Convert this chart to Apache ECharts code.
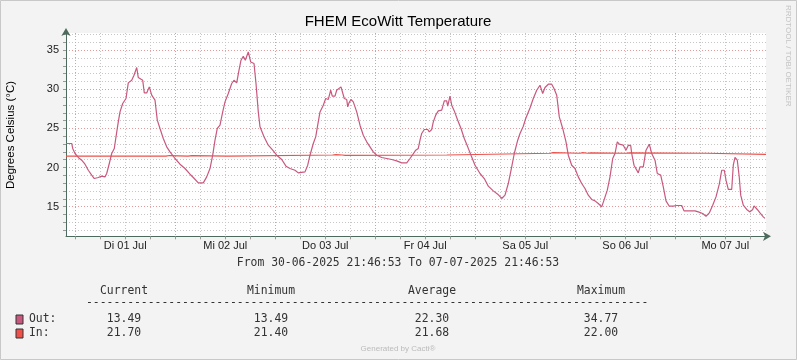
<!DOCTYPE html>
<html><head><meta charset="utf-8">
<script src="https://cdn.jsdelivr.net/npm/echarts@6/dist/echarts.min.js"></script>
<style>html,body{margin:0;padding:0;background:#f3f3f3}#c{width:797px;height:360px}</style>
</head><body><div id="c"></div>
<script>
// Hours since start (30-06-2025 21:46:53)
const outTimes = [0,1.37,1.61,2.16,2.95,3.77,4.56,5.35,6.17,6.79,7.75,8.57,9.36,9.77,10.39,10.97,11.59,12.0,12.55,12.96,13.61,14.4,14.95,15.77,16.32,16.97,17.35,18.41,18.79,19.37,19.99,20.57,21.36,21.91,22.56,23.35,24.17,24.96,26.16,27.36,28.56,29.76,30.55,31.75,32.95,33.77,34.56,35.21,35.76,36.31,36.96,37.61,38.16,38.95,39.77,40.32,40.97,41.52,42.0,42.55,43.03,43.75,44.33,45.12,45.6,46.15,46.56,47.52,48.55,49.61,50.57,51.77,52.8,53.76,54.96,55.75,57.36,58.01,58.56,59.35,59.93,60.41,60.96,61.75,62.33,62.95,63.53,63.91,64.56,64.97,66.0,66.79,67.37,67.61,67.92,68.4,68.95,69.77,70.56,71.35,72.17,72.96,73.75,74.57,75.77,76.97,78.17,79.37,80.57,81.77,82.56,83.11,83.93,84.55,84.96,85.37,85.99,86.81,87.19,87.77,88.15,88.73,89.35,90.17,90.79,91.37,91.61,92.16,92.57,93.19,94.01,94.8,95.59,96.41,97.2,98.16,99.36,100.39,101.35,102.55,103.61,104.57,105.36,106.15,106.97,107.59,108.41,108.96,109.75,110.33,111.36,112.15,112.97,113.76,114.17,114.41,114.96,115.75,116.57,117.12,117.77,118.39,119.21,120.0,120.55,121.37,122.16,122.95,123.77,124.56,125.35,126.17,126.96,127.75,128.57,129.12,129.91,130.56,131.21,131.76,132.31,132.79,133.75,134.4,134.95,135.53,135.77,136.32,136.8,137.35,137.76,138.55,139.2,139.99,140.57,141.36,141.91,142.73,143.35,144.0,144.79,145.75,146.57,147.77,148.32,149.35,150.96,151.75,152.81,153.6,154.39,155.21,156.0,156.79,157.37,157.99,158.4,158.95,159.77,160.15,160.56,161.11,161.59,161.93,162.55,163.37,164.16,164.81,165.12,165.91,166.56,167.35,167.76];
const outValues = [23.07,23.07,22.43,21.79,21.28,20.93,20.42,19.65,19.02,18.59,18.72,18.89,18.80,19.23,20.51,21.79,22.43,23.92,25.83,27.11,28.18,28.82,30.82,31.16,31.80,32.79,31.5,31.16,29.54,29.54,30.31,29.25,28.61,26.05,24.99,23.71,22.64,22.0,21.15,20.42,19.87,19.14,18.72,18.03,18.03,18.8,19.87,21.57,23.49,24.99,25.41,27.11,28.39,29.46,30.74,31.16,30.82,32.44,33.72,34.23,33.72,34.77,33.5,33.3,30.74,27.11,25.2,23.92,22.85,22.21,21.57,21.02,20.17,19.87,19.65,19.31,19.44,20.29,21.57,23.07,23.92,25.41,27.11,27.97,28.82,28.7,29.88,29.12,29.12,29.88,30.31,28.82,28.7,27.75,28.26,28.7,28.39,27.11,25.41,24.13,23.28,22.64,22.0,21.57,21.28,21.15,21.02,20.84,20.59,20.59,21.15,21.57,22.21,22.43,23.49,24.35,24.86,24.86,24.56,24.86,25.83,26.69,27.24,27.33,28.52,28.52,27.84,29.12,27.97,27.24,26.05,24.99,23.71,22.64,21.57,20.29,19.23,18.59,17.61,17.01,16.59,16.04,16.46,17.95,20.08,21.79,23.49,24.35,25.28,26.27,27.6,28.82,29.88,30.52,30.52,29.46,30.23,30.65,30.65,30.1,29.25,26.47,24.99,23.28,21.57,20.29,19.87,18.8,17.95,17.31,16.46,15.91,15.73,15.4,14.96,15.82,17.1,18.8,21.15,21.79,23.28,22.98,22.85,22.21,22.85,22.8,21.79,20.29,20.08,19.31,20.08,20.08,22.21,22.98,21.79,20.93,19.23,19.02,17.52,15.73,15.05,15.05,15.14,15.14,14.45,14.45,14.45,14.32,14.11,13.77,14.19,15.18,16.24,17.86,19.65,19.65,18.38,17.19,17.19,20.29,21.28,20.93,18.72,16.46,15.18,14.63,14.32,14.63,15.09,14.63,14.19,13.69,13.49];
const inTimes = [0,24.0,24.8,29.3,30.2,38.9,64.0,64.8,66.3,67.0,91.4,116.2,116.9,123.4,124.0,125.2,125.9,134.4,135.2,153.6,168];
const inValues = [21.45,21.53,21.45,21.52,21.45,21.6,21.65,21.6,21.55,21.6,21.82,21.9,21.82,21.9,21.82,21.88,21.82,21.88,21.82,21.68,21.70];
const dayLabels = ['Di 01 Jul','Mi 02 Jul','Do 03 Jul','Fr 04 Jul','Sa 05 Jul','So 06 Jul','Mo 07 Jul'];
const yLabels = [15,20,25,30,35];
const statHeaders = ['Current','Minimum','Average','Maximum'];
const statsOut = ['13.49','13.49','22.30','34.77'];
const statsIn = ['21.70','21.40','21.68','22.00'];
const seriesNames = ['Out:','In:'];
const fromText = 'From 30-06-2025 21:46:53 To 07-07-2025 21:46:53';

const startOffset = 24 - (21 + 46/60 + 53/3600); // hours from start to first midnight
const xTicks = []; for (let t = startOffset; t <= 168; t += 6) xTicks.push(t);
const xLabelVals = dayLabels.map((d,i)=> startOffset + 12 + 24*i);
const yTicks = []; for (let v = 12; v <= 37; v++) yTicks.push(v);

const OUTC = '#c9587f', INC = '#f0504a', AXC = '#4d6b5d';
const G = '#c6c6c6', R = '#e29a9a';
const SANS = "'Liberation Sans', Arial, sans-serif";
const MONO = "'DejaVu Sans Mono', monospace";

const colX = [124, 271, 432, 601];
const gfx = [
  {type:'rect', shape:{x:0.5,y:0.5,width:796,height:359}, style:{fill:null, stroke:'#c8c8c8', lineWidth:1}, silent:true, z:-10},
  {type:'text', x:398, y:22, style:{text:'FHEM EcoWitt Temperature', font:'15px '+SANS, fill:'#000', align:'center', verticalAlign:'middle'}},
  {type:'text', x:11, y:135, rotation:Math.PI/2, style:{text:'Degrees Celsius (°C)', font:'11.5px '+SANS, fill:'#000', align:'center', verticalAlign:'middle'}},
  {type:'text', x:788, y:5, rotation:-Math.PI/2, style:{text:'RRDTOOL / TOBI OETIKER', font:'8px '+SANS, fill:'#c4c4c4', align:'left', verticalAlign:'middle'}},
  {type:'text', x:398, y:263, style:{text:fromText, font:'11.4px '+MONO, fill:'#333', align:'center', verticalAlign:'middle'}},
  {type:'text', x:86, y:303, style:{text:'-'.repeat(82), font:'11.4px '+MONO, fill:'#333', align:'left', verticalAlign:'middle'}},
  {type:'text', x:398, y:349, style:{text:'Generated by Cacti®', font:'8px '+SANS, fill:'#bbb', align:'center', verticalAlign:'middle'}},
  {type:'rect', shape:{x:16,y:315,width:7,height:9}, style:{fill:OUTC, stroke:'#333', lineWidth:1}},
  {type:'rect', shape:{x:16,y:329,width:7,height:9}, style:{fill:INC, stroke:'#333', lineWidth:1}},
  {type:'text', x:29, y:319, style:{text:seriesNames[0], font:'11.4px '+MONO, fill:'#333', align:'left', verticalAlign:'middle'}},
  {type:'text', x:29, y:333, style:{text:seriesNames[1], font:'11.4px '+MONO, fill:'#333', align:'left', verticalAlign:'middle'}}
];
statHeaders.forEach((h,i)=>gfx.push({type:'text', x:colX[i], y:291, style:{text:h, font:'11.4px '+MONO, fill:'#333', align:'center', verticalAlign:'middle'}}));
statsOut.forEach((h,i)=>gfx.push({type:'text', x:colX[i], y:319, style:{text:h, font:'11.4px '+MONO, fill:'#333', align:'center', verticalAlign:'middle'}}));
statsIn.forEach((h,i)=>gfx.push({type:'text', x:colX[i], y:333, style:{text:h, font:'11.4px '+MONO, fill:'#333', align:'center', verticalAlign:'middle'}}));

const chart = echarts.init(document.getElementById('c'), null, {renderer:'canvas'});
chart.setOption({
  backgroundColor:'#f3f3f3',
  animation:false,
  grid:{left:66, right:31, top:33, height:203.3, show:true, backgroundColor:'#fff', borderWidth:0},
  xAxis:{type:'value', min:0, max:168,
    axisLine:{show:true, lineStyle:{color:AXC, width:1}, symbol:['none','arrow'], symbolSize:[7,8], symbolOffset:[0,5]},
    axisTick:{show:true, customValues:xTicks, length:3, inside:false, lineStyle:{color:'#999'}},
    axisLabel:{customValues:xLabelVals, margin:4, fontSize:11, fontFamily:SANS, color:'#222',
      formatter:(v)=>dayLabels[Math.round((v - startOffset - 12)/24)] || ''},
    splitLine:{show:true, lineStyle:{color:[R,G,G,G], type:[1,2], width:1}}},
  yAxis:{type:'value', min:11.2, max:37.2,
    axisLine:{show:true, lineStyle:{color:AXC, width:1}, symbol:['none','arrow'], symbolSize:[7,8], symbolOffset:[0,5]},
    axisTick:{show:true, customValues:yTicks, length:3, lineStyle:{color:'#999'}},
    axisLabel:{customValues:yLabels, margin:7, fontSize:11, fontFamily:SANS, color:'#222'},
    splitLine:{show:true, lineStyle:{color:[G,G,G,R,G], type:[1,2], width:1}}},
  graphic:gfx,
  series:[
    {name:'In', type:'line', step:'end', showSymbol:false, symbol:'none', data:inTimes.map((t,i)=>[t,inValues[i]]), lineStyle:{color:INC, width:1.2}, z:2},
    {name:'Out', type:'line', showSymbol:false, symbol:'none', data:outTimes.map((t,i)=>[t,outValues[i]]), lineStyle:{color:OUTC, width:1.2}, z:3}
  ]
});
</script></body></html>
